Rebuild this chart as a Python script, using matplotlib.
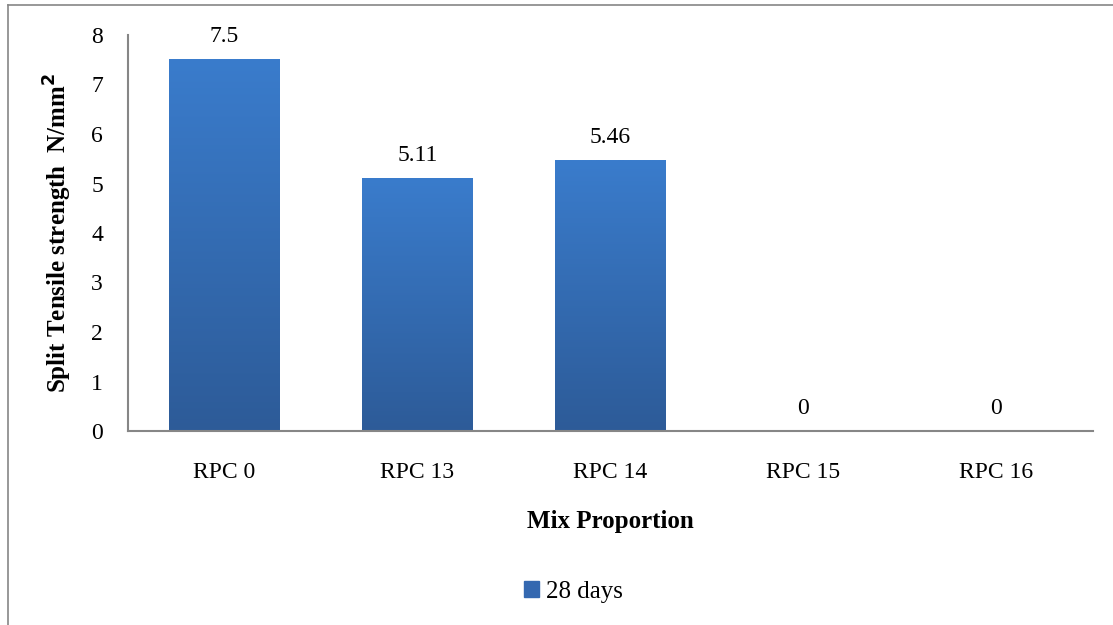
import numpy as np
import matplotlib.pyplot as plt
from matplotlib.colors import LinearSegmentedColormap
from matplotlib.lines import Line2D

mixes = ['RPC 0', 'RPC 13', 'RPC 14', 'RPC 15', 'RPC 16']
strength_28d = [7.5, 5.11, 5.46, 0, 0]
value_labels = ['7.5', '5.11', '5.46', '0', '0']

plt.rcParams['font.family'] = ['Liberation Serif', 'DejaVu Serif']

fig = plt.figure(figsize=(11.13, 6.25), dpi=100)
ax = fig.add_axes([0.115, 0.3104, 0.867, 0.6336])

# bar fill: vertical gradient like the Excel original
grad = LinearSegmentedColormap.from_list('bar', ['#2D5B98', '#3A7CCC'])
x = np.arange(len(mixes))
bars = ax.bar(x, strength_28d, width=0.575, color='none', edgecolor='none', zorder=2)
gradient = np.linspace(0, 1, 256).reshape(-1, 1)
for b in bars:
    h = b.get_height()
    if h <= 0:
        continue
    x0 = b.get_x()
    w = b.get_width()
    ax.imshow(gradient, cmap=grad, origin='lower', aspect='auto',
              extent=(x0, x0 + w, 0, h), zorder=2)

for xi, v, lab in zip(x, strength_28d, value_labels):
    ax.annotate(lab, (xi, v), xytext=(0, 9), textcoords='offset points',
                ha='center', va='bottom', fontsize=17)

ax.set_xlim(-0.5, len(mixes) - 0.5)
ax.set_ylim(0, 8)
ax.set_yticks(range(0, 9))
ax.set_xticks(x)
ax.set_xticklabels(mixes)
ax.tick_params(axis='both', labelsize=17, length=0)
ax.tick_params(axis='y', pad=18)
ax.tick_params(axis='x', pad=22)

for s in ['top', 'right']:
    ax.spines[s].set_visible(False)
for s in ['left', 'bottom']:
    ax.spines[s].set_color('#868686')
    ax.spines[s].set_linewidth(1.5)

ax.set_ylabel('Split Tensile strength  N/mm$^\\mathbf{2}$', fontsize=18,
              fontweight='bold', labelpad=12)
ax.set_xlabel('Mix Proportion', fontsize=18, fontweight='bold', labelpad=20)

handle = plt.Rectangle((0, 0), 1, 1, color='#3468B0')
fig.legend([handle], ['28 days'], loc='center', bbox_to_anchor=(0.515, 0.053),
           frameon=False, fontsize=18, handlelength=0.6, handleheight=0.6,
           handletextpad=0.3)

# outer chart border (top and left visible in the original)
fig.add_artist(Line2D([0.007, 1.0], [0.992, 0.992], color='#868686', lw=1.2,
                      transform=fig.transFigure))
fig.add_artist(Line2D([0.007, 0.007], [0.0, 0.992], color='#868686', lw=1.2,
                      transform=fig.transFigure))

fig.savefig('out.png', dpi=100)
